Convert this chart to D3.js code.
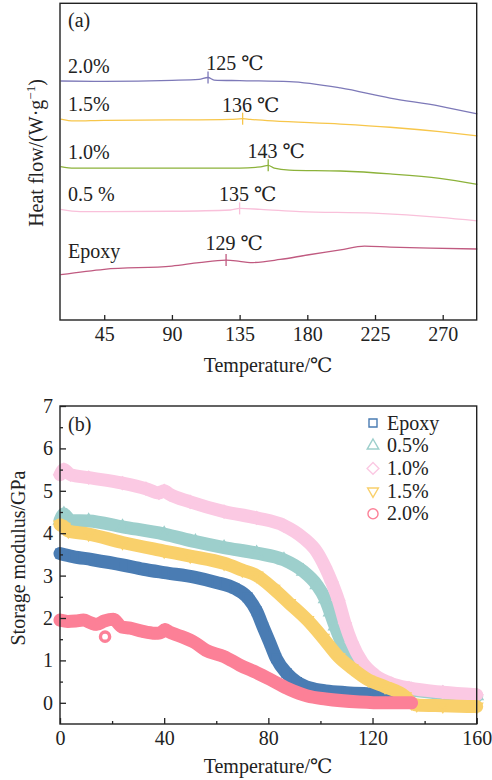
<!DOCTYPE html>
<html>
<head>
<meta charset="utf-8">
<script src="https://cdn.jsdelivr.net/npm/d3@7"></script>
<style>
  body { margin: 0; background: #fff; }
  svg { display: block; font-family: "Liberation Serif", "DejaVu Serif", serif; }
</style>
</head>
<body>
<svg id="chart" width="492" height="780"></svg>
<script>

// (a) DSC curves, heat flow in arbitrary units (curves are offset, no y scale shown)
var dsc_names = ["2.0%", "1.5%", "1.0%", "0.5 %", "Epoxy"]
var dsc_colors = ["#7d79b8", "#f7c64a", "#8cb23a", "#f9c0da", "#c05a80"]
var dsc_tg_mark = [114, 137, 154, 135, 126]
var dsc_tg_text = ["125 ℃", "136 ℃", "143 ℃", "135 ℃", "129 ℃"]
var dsc_ticks = [45, 90, 135, 180, 225, 270]

var dsc_t_20 = [16, 45, 90, 108, 114, 118, 135, 168, 202, 235, 268, 293]
var dsc_hf_20 = [75.4, 75.3, 75.6, 75.9, 76.5, 75.7, 75.5, 75.2, 73.2, 70.0, 67.5, 65.0]
var dsc_t_15 = [16, 25, 45, 90, 129, 137, 142, 157, 202, 235, 268, 293]
var dsc_hf_15 = [63.4, 62.8, 63.0, 63.1, 63.3, 63.5, 63.3, 62.8, 61.8, 60.8, 59.4, 58.1]
var dsc_t_10 = [16, 25, 45, 90, 135, 149, 154, 158, 168, 202, 235, 268, 293]
var dsc_hf_10 = [48.4, 47.9, 47.9, 47.9, 47.9, 48.3, 48.8, 47.9, 47.3, 47.0, 46.1, 44.7, 42.8]
var dsc_t_05 = [16, 29, 45, 90, 129, 135, 149, 175, 224, 268, 293]
var dsc_hf_05 = [34.9, 34.2, 34.2, 34.3, 34.7, 35.2, 34.9, 34.2, 33.7, 32.4, 31.3]
var dsc_t_ep = [16, 45, 90, 108, 126, 135, 142, 162, 180, 202, 218, 235, 262, 293]
var dsc_hf_ep = [14.3, 16.0, 17.0, 18.1, 18.9, 18.5, 18.1, 19.1, 20.5, 22.1, 23.3, 23.0, 22.7, 22.4]

// (b) DMA storage modulus (GPa) vs temperature
var dma_names = ["Epoxy", "0.5%", "1.0%", "1.5%", "2.0%"]
var dma_colors = ["#4a7cb3", "#9dcfcc", "#fbc9e3", "#f9d06b", "#fc8097"]
var dma_ticks_x = [0, 40, 80, 120, 160]
var dma_minor_x = [20, 60, 100, 140]
var dma_ticks_y = [0, 1, 2, 3, 4, 5, 6, 7]
var dma_minor_y = [0.5, 1.5, 2.5, 3.5, 4.5, 5.5, 6.5]

var ep_t = [0, 5, 12, 24, 32, 40, 52, 60, 67, 72, 75.5, 78, 80.6, 83, 87, 91, 96, 102, 110, 121, 133]
var ep_e = [3.52, 3.45, 3.38, 3.25, 3.15, 3.07, 2.96, 2.84, 2.70, 2.49, 2.16, 1.79, 1.41, 1.05, 0.70, 0.49, 0.35, 0.28, 0.24, 0.21, 0.17]
var p05_t = [0, 1.5, 4, 11, 24, 40, 52, 63, 75.5, 86, 93.4, 98.6, 101.8, 103.7, 105.6, 108.2, 112, 116, 120, 125, 135, 147, 160]
var p05_e = [4.30, 4.45, 4.30, 4.29, 4.15, 3.98, 3.80, 3.66, 3.53, 3.37, 3.10, 2.78, 2.45, 2.14, 1.81, 1.41, 1.05, 0.75, 0.55, 0.40, 0.30, 0.22, 0.16]
var p10_t = [0, 1.5, 4, 11, 24, 33, 38, 40, 42, 50, 63, 75.5, 86, 93.4, 98.6, 101.8, 104.3, 106.9, 109.4, 112, 116, 121, 127.4, 134, 147, 160]
var p10_e = [5.38, 5.50, 5.38, 5.31, 5.18, 5.05, 4.95, 5.00, 4.92, 4.74, 4.51, 4.36, 4.18, 3.89, 3.56, 3.20, 2.85, 2.42, 1.88, 1.43, 0.96, 0.65, 0.45, 0.35, 0.25, 0.19]
var p15_t = [0, 1.5, 3.2, 11, 24, 40, 50, 63, 70, 75.5, 82, 88, 95, 101, 107, 112, 118.4, 124.8, 132.5, 135, 137, 147, 160]
var p15_e = [4.20, 4.15, 4.05, 3.98, 3.78, 3.58, 3.46, 3.29, 3.13, 3.00, 2.69, 2.35, 1.95, 1.53, 1.08, 0.82, 0.54, 0.38, 0.15, 0.00, -0.05, -0.07, -0.09]
var p20_t = [0, 3, 6, 9, 12, 14, 17, 20.5, 23.7, 27, 31.4, 36.5, 38.5, 40.3, 42, 44, 46.7, 52, 56, 63, 69, 75.5, 82, 88, 95, 102, 115, 125, 135]
var p20_e = [1.95, 1.92, 1.93, 1.95, 1.88, 1.85, 1.93, 1.97, 1.79, 1.76, 1.69, 1.64, 1.65, 1.73, 1.67, 1.62, 1.56, 1.41, 1.24, 1.09, 0.89, 0.71, 0.51, 0.32, 0.16, 0.09, 0.02, 0.00, 0.00]
var p20_stray_t = [17.3]
var p20_stray_e = [1.56]

var ink = "#222"
var svg = d3.select("#chart")

function frame(x0, y0, x1, y1){
  svg.append("rect")
    .attr("x", x0).attr("y", y0)
    .attr("width", x1 - x0).attr("height", y1 - y0)
    .attr("fill", "none")
    .attr("stroke", ink)
    .attr("stroke-width", 1.4)
}

function style_axis(g){
  g.attr("font-family", null).attr("font-size", 20).attr("color", ink)
  g.select(".domain").remove()
  g.selectAll(".tick line").attr("stroke-width", 1.3)
}

function zip(a, b){ return a.map(function(v, i){ return [v, b[i]] }) }

// ---------------- (a) ----------------
var xa = d3.scaleLinear().domain([15.6, 292.6]).range([60, 476.7])
var ya = d3.scaleLinear().domain([0, 100]).range([320, 3])

var dsc_t = [dsc_t_20, dsc_t_15, dsc_t_10, dsc_t_05, dsc_t_ep]
var dsc_hf = [dsc_hf_20, dsc_hf_15, dsc_hf_10, dsc_hf_05, dsc_hf_ep]

var line_a = d3.line()
  .x(function(d){ return xa(d[0]) })
  .y(function(d){ return ya(d[1]) })
  .curve(d3.curveMonotoneX)

dsc_names.forEach(function(name, i){
  var pts = zip(dsc_t[i], dsc_hf[i])
  var col = dsc_colors[i]
  svg.append("path")
    .attr("fill", "none")
    .attr("stroke", col)
    .attr("stroke-width", 1.3)
    .attr("d", line_a(pts))

  var at = d3.scaleLinear().domain(dsc_t[i]).range(dsc_hf[i])
  var mx = xa(dsc_tg_mark[i])
  var my = ya(at(dsc_tg_mark[i]))
  svg.append("line")
    .attr("x1", mx).attr("x2", mx)
    .attr("y1", my - 6).attr("y2", my + 6)
    .attr("stroke", col)
    .attr("stroke-width", 1.3)

  var lift = i == 4 ? 10 : 7
  svg.append("text")
    .attr("x", mx + (i == 0 ? 27 : 8))
    .attr("y", my - lift)
    .attr("text-anchor", "middle")
    .attr("font-size", 20)
    .attr("fill", ink)
    .text(dsc_tg_text[i])

  svg.append("text")
    .attr("x", 68)
    .attr("y", ya(dsc_hf[i][0]) - (i == 4 ? 17 : 8))
    .attr("font-size", 20)
    .attr("fill", ink)
    .text(name)
})

frame(60, 3.3, 476.7, 320)

svg.append("g").attr("transform", "translate(0,320)")
  .call(d3.axisBottom(xa).tickValues(dsc_ticks).tickSizeInner(-5).tickSizeOuter(0).tickPadding(7))
  .call(style_axis)

svg.append("text")
  .attr("x", 68).attr("y", 27)
  .attr("font-size", 20).attr("fill", ink)
  .text("(a)")

svg.append("text")
  .attr("x", 268).attr("y", 372)
  .attr("text-anchor", "middle")
  .attr("font-size", 20).attr("fill", ink)
  .text("Temperature/℃")

var ylab_a = svg.append("text")
  .attr("transform", "translate(43,153) rotate(-90)")
  .attr("text-anchor", "middle")
  .attr("font-size", 20).attr("fill", ink)
ylab_a.append("tspan").text("Heat flow/(W·g")
ylab_a.append("tspan").attr("dy", -8).attr("font-size", 13).text("−1")
ylab_a.append("tspan").attr("dy", 8).text(")")

// ---------------- (b) ----------------
var xb = d3.scaleLinear().domain([0, 160]).range([60, 476.7])
var yb = d3.scaleLinear().domain([-0.5, 7]).range([724, 406])

var dma_t = [ep_t, p05_t, p10_t, p15_t, p20_t]
var dma_e = [ep_e, p05_e, p10_e, p15_e, p20_e]

var shapes = [
  {type: d3.symbolSquare, size: 64, rot: 0},
  {type: d3.symbolTriangle, size: 58, rot: 0},
  {type: d3.symbolSquare, size: 70, rot: 45},
  {type: d3.symbolTriangle, size: 50, rot: 180},
  {type: d3.symbolCircle, size: 80, rot: 0}
]

var line_b = d3.line()
  .x(function(d){ return xb(d[0]) })
  .y(function(d){ return yb(d[1]) })
  .curve(d3.curveMonotoneX)

var plot_b = svg.append("g")

dma_names.forEach(function(name, i){
  var pts = zip(dma_t[i], dma_e[i])
  var col = dma_colors[i]
  var sh = shapes[i]
  var g = plot_b.append("g")

  g.append("path")
    .attr("fill", "none")
    .attr("stroke", col)
    .attr("stroke-width", 13)
    .attr("stroke-linejoin", "round")
    .attr("stroke-linecap", "round")
    .attr("d", line_b(pts))

  g.selectAll("path.mk").data(pts).enter().append("path")
    .attr("class", "mk")
    .attr("d", d3.symbol().type(sh.type).size(sh.size))
    .attr("transform", function(d){ return "translate(" + xb(d[0]) + "," + yb(d[1]) + ") rotate(" + sh.rot + ")" })
    .attr("fill", "none")
    .attr("stroke", col)
    .attr("stroke-width", 2)
})

plot_b.selectAll("circle.stray").data(zip(p20_stray_t, p20_stray_e)).enter().append("circle")
  .attr("class", "stray")
  .attr("cx", function(d){ return xb(d[0]) })
  .attr("cy", function(d){ return yb(d[1]) })
  .attr("r", 4.6)
  .attr("fill", "none")
  .attr("stroke", dma_colors[4])
  .attr("stroke-width", 3.4)

frame(60, 406, 476.7, 724)

svg.append("g").attr("transform", "translate(0,724)")
  .call(d3.axisBottom(xb).tickValues(dma_ticks_x).tickSizeInner(-6).tickSizeOuter(0).tickPadding(7))
  .call(style_axis)
svg.append("g").attr("transform", "translate(0,724)")
  .call(d3.axisBottom(xb).tickValues(dma_minor_x).tickSizeInner(-3).tickSizeOuter(0).tickFormat(""))
  .call(style_axis)
svg.append("g").attr("transform", "translate(60,0)")
  .call(d3.axisLeft(yb).tickValues(dma_ticks_y).tickSizeInner(-6).tickSizeOuter(0).tickPadding(7))
  .call(style_axis)
svg.append("g").attr("transform", "translate(60,0)")
  .call(d3.axisLeft(yb).tickValues(dma_minor_y).tickSizeInner(-3).tickSizeOuter(0).tickFormat(""))
  .call(style_axis)

svg.append("text")
  .attr("x", 68).attr("y", 431)
  .attr("font-size", 20).attr("fill", ink)
  .text("(b)")

svg.append("text")
  .attr("x", 268).attr("y", 773)
  .attr("text-anchor", "middle")
  .attr("font-size", 20).attr("fill", ink)
  .text("Temperature/℃")

svg.append("text")
  .attr("transform", "translate(25,558) rotate(-90)")
  .attr("text-anchor", "middle")
  .attr("font-size", 20).attr("fill", ink)
  .text("Storage modulus/GPa")

// legend
var legend = svg.append("g").attr("transform", "translate(373,423)")
dma_names.forEach(function(name, i){
  var sh = shapes[i]
  var row = legend.append("g").attr("transform", "translate(0," + (i * 22.7) + ")")
  row.append("path")
    .attr("d", d3.symbol().type(sh.type).size(sh.size))
    .attr("transform", "rotate(" + sh.rot + ")")
    .attr("fill", "none")
    .attr("stroke", dma_colors[i])
    .attr("stroke-width", 1.4)
  row.append("text")
    .attr("x", 14).attr("y", 6.5)
    .attr("font-size", 20).attr("fill", ink)
    .text(name)
})

</script>
</body>
</html>
